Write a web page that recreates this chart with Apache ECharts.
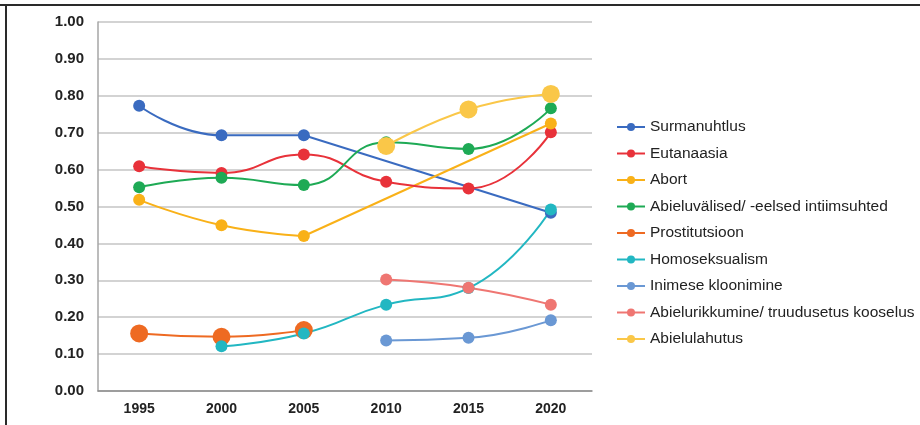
<!DOCTYPE html>
<html>
<head>
<meta charset="utf-8">
<script src="https://cdn.jsdelivr.net/npm/echarts@6/dist/echarts.min.js"></script>
<style>
  html, body { margin: 0; padding: 0; background: #fff; }
  #chart { width: 920px; height: 425px; }
</style>
</head>
<body>
<div id="chart"></div>
<script>
  // aastad
  var years = ['1995', '2000', '2005', '2010', '2015', '2020'];

  // väärtused (null = puudub)
  var surmanuhtlus    = [0.773, 0.693, 0.693, null, null, 0.483];
  var eutanaasia      = [0.609, 0.591, 0.641, 0.567, 0.549, 0.701];
  var abort           = [0.518, 0.449, 0.420, null, null, 0.725];
  var abieluvalised   = [0.552, 0.578, 0.558, 0.674, 0.656, 0.766];
  var prostitutsioon  = [0.156, 0.147, 0.165, null, null, null];
  var homoseksualism  = [null, 0.121, 0.156, 0.234, 0.279, 0.492];
  var kloonimine      = [null, null, null, 0.137, 0.144, 0.192];
  var abielurikkumine = [null, null, null, 0.302, 0.280, 0.234];
  var abielulahutus   = [null, null, null, 0.664, 0.763, 0.805];

  var yTicks = [0, 1, 0.1];

  var chart = echarts.init(document.getElementById('chart'));

  // lünga ümber ainult otsapunktid, et sealt sirge joon tõmmata
  function gapPart(data) {
    var out = data.map(function () { return null; });
    for (var i = 1; i < data.length; i++) {
      if (data[i] == null && data[i - 1] != null) {
        var j = i;
        while (j < data.length && data[j] == null) j++;
        if (j < data.length) { out[i - 1] = data[i - 1]; out[j] = data[j]; }
      }
    }
    return out;
  }

  var list = [];
  function mkSeries(name, data, color, size) {
    list.push({
      name: name,
      type: 'line',
      data: data,
      smooth: true,
      connectNulls: false,
      symbol: 'circle',
      symbolSize: size || 12,
      lineStyle: { color: color, width: 2 },
      itemStyle: { color: color },
      emphasis: { disabled: true }
    });
    var g = gapPart(data);
    if (g.some(function (v) { return v != null; })) {
      list.push({
        name: name,
        type: 'line',
        data: g,
        connectNulls: true,
        showSymbol: false,
        symbol: 'none',
        lineStyle: { color: color, width: 2 },
        itemStyle: { color: color },
        z: 1,
        emphasis: { disabled: true }
      });
    }
  }

  mkSeries('Surmanuhtlus', surmanuhtlus, '#3a6bc0');
  mkSeries('Eutanaasia', eutanaasia, '#e8323a');
  mkSeries('Abort', abort, '#f9b118');
  mkSeries('Abieluvälised/ -eelsed intiimsuhted', abieluvalised, '#1eaa55');
  mkSeries('Prostitutsioon', prostitutsioon, '#ee6a22', 18);
  mkSeries('Homoseksualism', homoseksualism, '#22b7c2');
  mkSeries('Inimese kloonimine', kloonimine, '#6a98d4');
  mkSeries('Abielurikkumine/ truudusetus kooselus', abielurikkumine, '#ef7672');
  mkSeries('Abielulahutus', abielulahutus, '#fac748', 18);

  var option = {
    animation: false,
    backgroundColor: '#fff',
    grid: { left: 98, right: 328, top: 22, bottom: 34 },
    legend: {
      orient: 'vertical',
      left: 616,
      top: 119,
      padding: 0,
      itemWidth: 28,
      itemHeight: 10,
      itemGap: 10.5,
      data: ['Surmanuhtlus', 'Eutanaasia', 'Abort', 'Abieluvälised/ -eelsed intiimsuhted',
        'Prostitutsioon', 'Homoseksualism', 'Inimese kloonimine',
        'Abielurikkumine/ truudusetus kooselus', 'Abielulahutus'],
      textStyle: { fontFamily: 'Liberation Sans', fontSize: 15.5, color: '#222' }
    },
    xAxis: {
      type: 'category',
      data: years,
      boundaryGap: true,
      axisTick: { show: false },
      axisLine: { lineStyle: { color: '#8c8c8c', width: 1.5 } },
      axisLabel: { fontFamily: 'Liberation Sans', fontSize: 14, fontWeight: 'bold', color: '#222', margin: 11 }
    },
    yAxis: {
      type: 'value',
      min: yTicks[0],
      max: yTicks[1],
      interval: yTicks[2],
      axisLine: { show: true, lineStyle: { color: '#a6a6a6', width: 1.5 } },
      axisTick: { show: false },
      splitLine: { lineStyle: { color: '#c4c4c4', width: 1.5 } },
      axisLabel: {
        fontFamily: 'Liberation Sans', fontSize: 15, fontWeight: 'bold', color: '#222', margin: 14,
        formatter: function (v) { return v.toFixed(2); }
      }
    },
    graphic: [
      { type: 'line', shape: { x1: 0, y1: 5, x2: 920, y2: 5 }, style: { stroke: '#2a2a2a', lineWidth: 2 } },
      { type: 'line', shape: { x1: 6, y1: 5, x2: 6, y2: 425 }, style: { stroke: '#2a2a2a', lineWidth: 2 } }
    ],
    series: list
  };

  chart.setOption(option);
</script>
</body>
</html>
